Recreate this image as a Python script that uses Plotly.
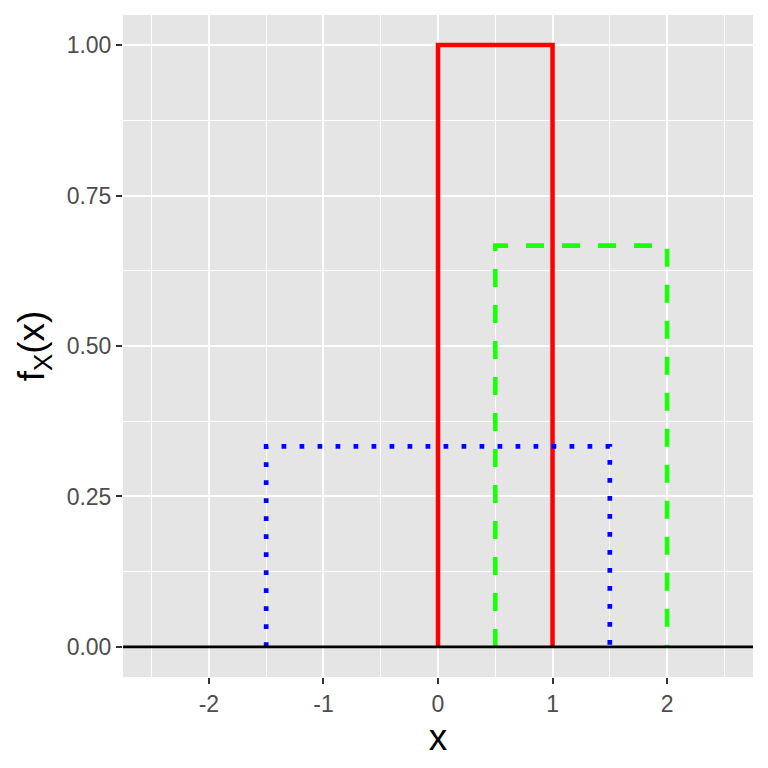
import plotly.graph_objects as go

# three uniform densities: support [a, b], height 1/(b-a)
lower = [0, 0.5, -1.5]
upper = [1, 2, 1.5]
colors = ['#FF0000', '#1AFF0A', '#0000FF']
dashes = ['solid', '18px,18px', '4.7px,13.3px']
widths = [4.5, 4.7, 4.7]

x_ticks = [-2, -1, 0, 1, 2]
x_labels = ['-2', '-1', '0', '1', '2']
y_ticks = [0, 0.25, 0.5, 0.75, 1]
y_labels = ['0.00', '0.25', '0.50', '0.75', '1.00']

fig = go.Figure()

# baseline at f=0 across the whole panel
fig.add_shape(type='line', xref='paper', yref='y', x0=0, x1=1, y0=0, y1=0,
              line=dict(color='black', width=2.6))

for a, b, c, d, w in zip(lower, upper, colors, dashes, widths):
    h = 1 / (b - a)
    fig.add_trace(go.Scatter(x=[a, a, b, b], y=[0, h, h, 0], mode='lines',
                             line=dict(color=c, dash=d, width=w),
                             showlegend=False, hoverinfo='skip'))

axis_common = dict(
    showgrid=True, gridcolor='white', gridwidth=2.2,
    zeroline=False, showline=False,
    ticks='outside', ticklen=6, tickwidth=2.2, tickcolor='#333333',
    tickfont=dict(family='Liberation Sans', size=23, color='#4D4D4D'),
    title_font=dict(family='Liberation Sans', size=37, color='black'),
)

fig.update_xaxes(axis_common, range=[-2.75, 2.75], tickvals=x_ticks, ticktext=x_labels,
                 minor=dict(dtick=1, tick0=-2.5, showgrid=True, gridcolor='white',
                            gridwidth=1.1, ticks=''),
                 title_text='x', title_standoff=0)
fig.update_yaxes(axis_common, range=[-0.05, 1.05], tickvals=y_ticks, ticktext=y_labels,
                 minor=dict(dtick=0.25, tick0=0.125, showgrid=True, gridcolor='white',
                            gridwidth=1.1, ticks=''),
                 title_text='f<sub>X</sub>(x)', title_standoff=10)

# page body adds 8px offset, margins compensate
fig.update_layout(
    width=768, height=768,
    margin=dict(l=115, r=23, t=7, b=99),
    plot_bgcolor='#E5E5E5', paper_bgcolor='white',
    font=dict(family='Liberation Sans'),
)

fig.write_html('out.html')
